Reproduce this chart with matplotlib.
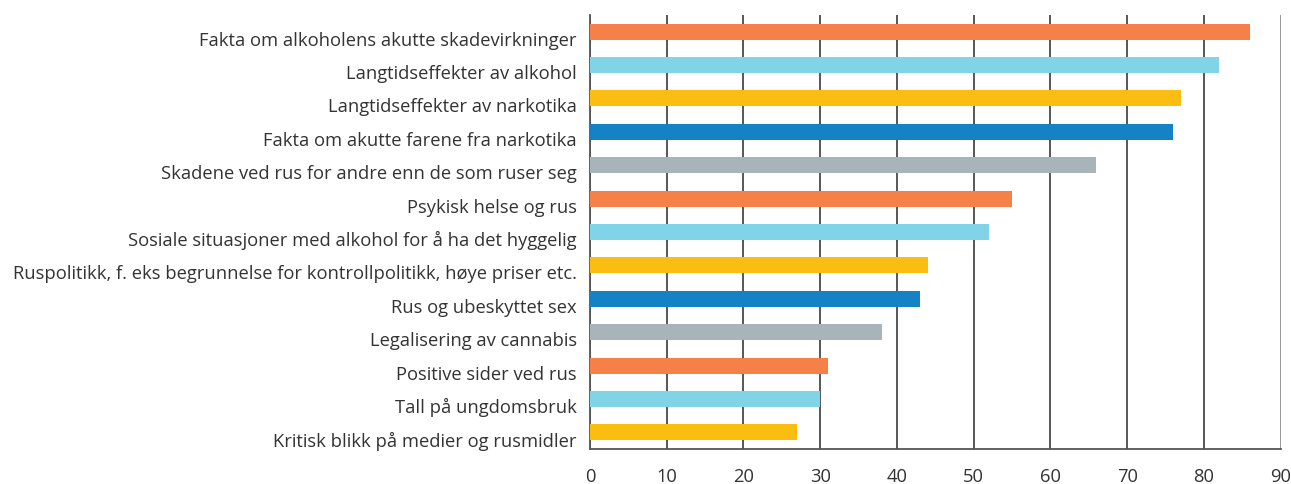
import numpy as np
import matplotlib.pyplot as plt
import matplotlib.transforms as mtransforms

labels = ["Fakta om alkoholens akutte skadevirkninger",
          "Langtidseffekter av alkohol",
          "Langtidseffekter av narkotika",
          "Fakta om akutte farene fra narkotika",
          "Skadene ved rus for andre enn de som ruser seg",
          "Psykisk helse og rus",
          "Sosiale situasjoner med alkohol for å ha det hyggelig",
          "Ruspolitikk, f. eks begrunnelse for kontrollpolitikk, høye priser etc.",
          "Rus og ubeskyttet sex",
          "Legalisering av cannabis",
          "Positive sider ved rus",
          "Tall på ungdomsbruk",
          "Kritisk blikk på medier og rusmidler"]
values = [86, 82, 77, 76, 66, 55, 52, 44, 43, 38, 31, 30, 27]
palette = ["#F58149", "#81D3E8", "#FCBD13", "#1482C5", "#A8B4BA"]

plt.rcParams['font.family'] = ['Open Sans', 'DejaVu Sans']

fig = plt.figure(figsize=(12.91, 4.84), dpi=100)
ax = fig.add_axes([0.457, 0.0723, 0.535, 0.897])

y = np.arange(len(labels))
colors = [palette[i % len(palette)] for i in range(len(labels))]
ax.barh(y, values, height=0.48, color=colors, zorder=3)

ax.set_ylim(len(labels) - 0.5, -0.5)
ax.set_xlim(0, 90)
ax.set_xticks(np.arange(0, 91, 10))
ax.set_yticks(y)
ax.set_yticklabels(labels)
ax.tick_params(axis='both', length=0, labelsize=13.25, colors='#333333')
ax.tick_params(axis='x', pad=14)
ax.tick_params(axis='y', pad=9.5)
# labels sit a little below the bar centre in the original
shift = mtransforms.ScaledTranslation(0, -7 / 100, fig.dpi_scale_trans)
for lbl in ax.get_yticklabels():
    lbl.set_transform(lbl.get_transform() + shift)
ax.grid(axis='x', color='#3a3a3a', linewidth=1.2, zorder=0)
ax.get_xgridlines()[-1].set_color('#888888')
for s in ['top', 'right']:
    ax.spines[s].set_visible(False)
for s in ['left', 'bottom']:
    ax.spines[s].set_color('#555555')
    ax.spines[s].set_linewidth(1.3)

fig.savefig("out.png", dpi=100)
